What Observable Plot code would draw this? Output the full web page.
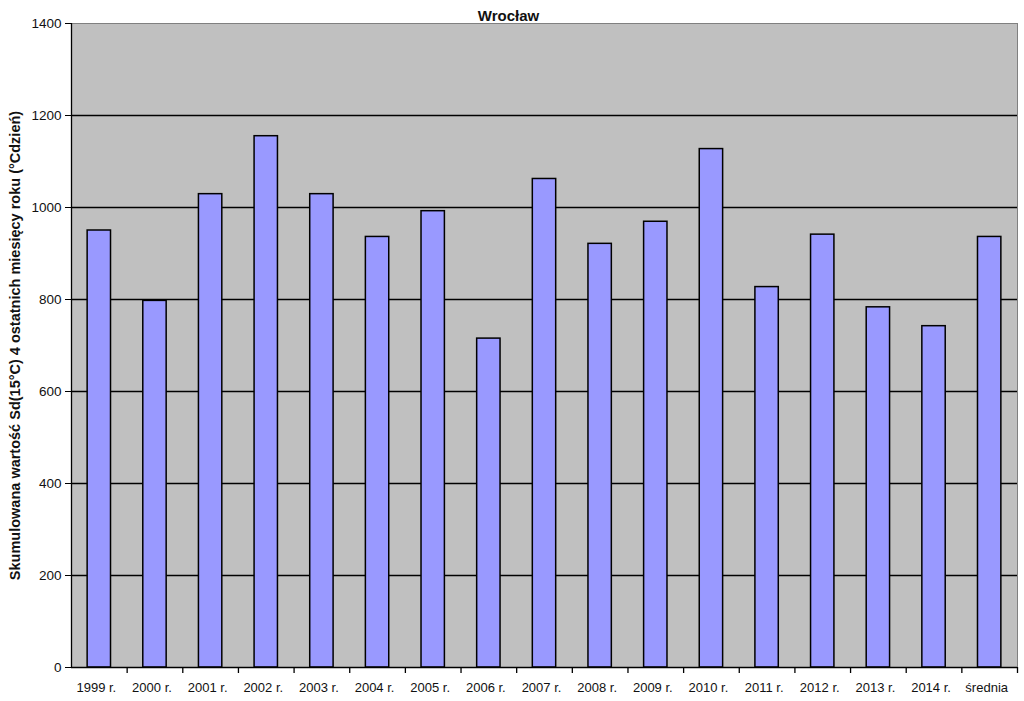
<!DOCTYPE html>
<html><head><meta charset="utf-8">
<script src="https://cdn.jsdelivr.net/npm/d3@7"></script>
<script src="https://cdn.jsdelivr.net/npm/@observablehq/plot@0.6"></script>
<style>body{margin:0;background:#fff;}</style>
</head><body><div id="chart"></div>
<script>
const categories = ["1999 r.","2000 r.","2001 r.","2002 r.","2003 r.","2004 r.","2005 r.","2006 r.","2007 r.","2008 r.","2009 r.","2010 r.","2011 r.","2012 r.","2013 r.","2014 r.","średnia"];
const values = [950, 797, 1029, 1155, 1029, 936, 992, 715, 1062, 921, 969, 1127, 827, 941, 783, 742, 936];
const yTicks = [0, 200, 400, 600, 800, 1000, 1200, 1400];
const title = "Wrocław";
const yLabel = "Skumulowana wartość Sd(15°C) 4 ostatnich miesięcy roku (°Cdzień)";

const data = categories.map((c, i) => ({category: c, value: values[i]}));
const W = 1024, H = 701, mL = 71, mR = 7, mT = 23, mB = 34;
const step = (W - mL - mR) / categories.length;

const chart = Plot.plot({
  width: W, height: H,
  marginLeft: mL, marginRight: mR, marginTop: mT, marginBottom: mB,
  style: {fontFamily: "'Liberation Sans', Arial, sans-serif", background: "#fff", color: "#111", overflow: "visible"},
  x: {type: "band", domain: categories, paddingInner: 0.58, paddingOuter: 0.29, round: false, label: null},
  y: {domain: [0, 1400], label: null},
  marks: [
    Plot.frame({fill: "#c0c0c0", stroke: "#808080"}),
    Plot.gridY(yTicks.filter(t => t > 0 && t < 1400), {stroke: "#000", strokeOpacity: 1, strokeWidth: 1.3}),
    Plot.barY(data, {x: "category", y: "value", fill: "#9999ff", stroke: "#000", strokeWidth: 1.5}),
    Plot.ruleY([0], {stroke: "#000", strokeWidth: 1.3}),
    Plot.ruleX([categories[0]], {dx: -step / 2, y1: 0, y2: 1400, stroke: "#000", strokeWidth: 1.3}),
    Plot.ruleX(categories, {x: d => d, dx: step / 2, y1: 0, y2: 0, insetBottom: -6, stroke: "#000", strokeWidth: 1.3}),
    Plot.axisY({ticks: yTicks, tickFormat: d => String(d), tickSize: 6, tickPadding: 4, fontSize: 13.5, stroke: "#000", label: null}),
    Plot.axisX({tickSize: 0, tickPadding: 15, fontSize: 13, dx: -3, label: null}),
    Plot.text([title], {frameAnchor: "top", text: d => d, textAnchor: "middle", dx: -36, dy: -13, fontWeight: "bold", fontSize: 15, fill: "#111"}),
    Plot.text([yLabel], {frameAnchor: "left", text: d => d, textAnchor: "middle", dx: -56, rotate: -90, fontWeight: "bold", fontSize: 14.5, fill: "#111"})
  ]
});
document.getElementById("chart").appendChild(chart);
</script>
</body></html>
